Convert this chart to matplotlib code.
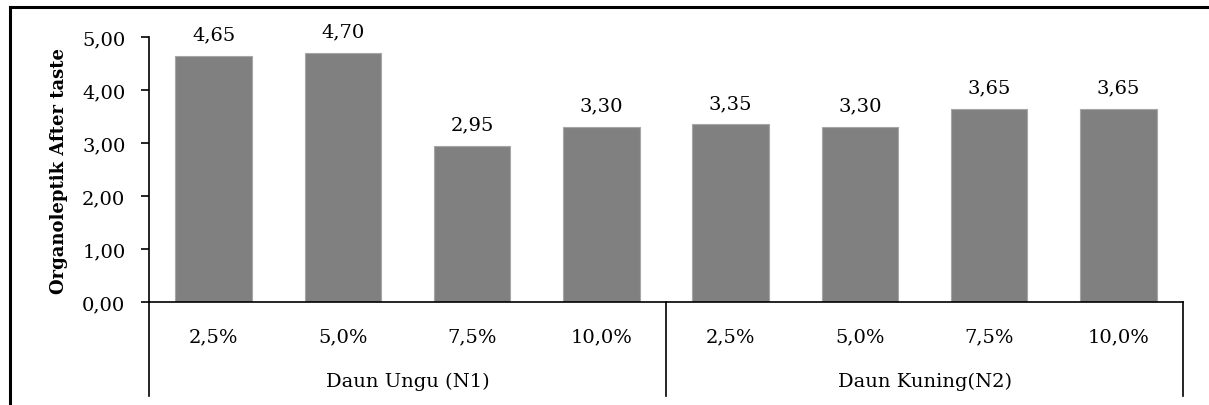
import matplotlib.pyplot as plt
from matplotlib.lines import Line2D

plt.rcParams["font.family"] = ["DejaVu Serif"]

concentrations = ["2,5%", "5,0%", "7,5%", "10,0%", "2,5%", "5,0%", "7,5%", "10,0%"]
groups = ["Daun Ungu (N1)", "Daun Kuning(N2)"]
values = [4.65, 4.70, 2.95, 3.30, 3.35, 3.30, 3.65, 3.65]
y_ticks = [0, 1, 2, 3, 4, 5]

W, H = 1209, 406
fig = plt.figure(figsize=(W / 100, H / 100), dpi=100)
ax = fig.add_axes([149 / W, 1 - 303 / H, (1183 - 149) / W, (303 - 38) / H])

x = list(range(len(values)))
ax.bar(x, values, width=0.59, color="#808080", edgecolor="#a6a6a6", linewidth=0.8)

for xi, v in zip(x, values):
    ax.annotate(f"{v:.2f}".replace(".", ","), (xi, v), xytext=(0, 9),
                textcoords="offset points", ha="center", va="bottom", fontsize=14)

ax.set_xlim(-0.5, len(values) - 0.5)
ax.set_ylim(0, 5)
ax.set_yticks(y_ticks)
ax.set_yticklabels([f"{t:.2f}".replace(".", ",") for t in y_ticks], fontsize=14)
ax.set_xticks([])
ax.tick_params(axis="y", direction="out", length=6, width=1.2, pad=11)

for side in ["top", "right"]:
    ax.spines[side].set_visible(False)
ax.spines["left"].set_linewidth(1.2)
ax.spines["bottom"].set_linewidth(1.2)

ax.set_ylabel("Organoleptik After taste", fontsize=13, fontweight="bold", labelpad=10)

# category table under the axis
tr = ax.get_xaxis_transform()
for xi, lab in zip(x, concentrations):
    ax.text(xi, -0.128, lab, transform=tr, ha="center", va="center", fontsize=14)
per_group = len(values) // len(groups)
for gi, g in enumerate(groups):
    cx = gi * per_group + (per_group - 1) / 2
    ax.text(cx, -0.298, g, transform=tr, ha="center", va="center", fontsize=14)
for sx in [-0.5, per_group - 0.5, len(values) - 0.5]:
    ax.plot([sx, sx], [0, -0.355], transform=tr, color="black", lw=1.2, clip_on=False)

# outer frame of the figure box
fig.add_artist(Line2D([10 / W, 10 / W], [0, 1 - 8 / H], color="black", lw=2.2))
fig.add_artist(Line2D([10 / W, 1], [1 - 8 / H, 1 - 8 / H], color="black", lw=2.2))

fig.savefig("out.png", dpi=100)
